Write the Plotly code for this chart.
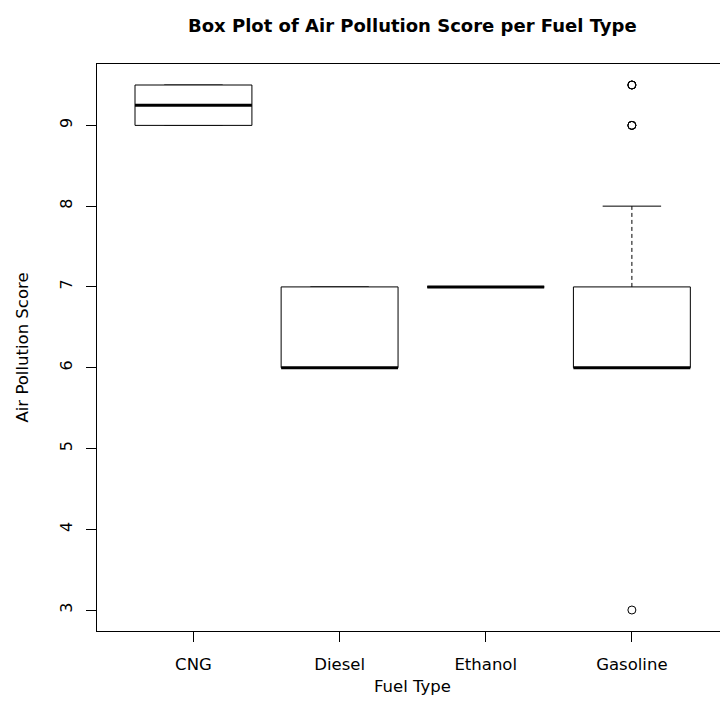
import plotly.graph_objects as go

categories = ["CNG", "Diesel", "Ethanol", "Gasoline"]
q1 = [9.0, 6.0, 7.0, 6.0]
median = [9.25, 6.0, 7.0, 6.0]
q3 = [9.5, 7.0, 7.0, 7.0]
lower_whisker = [9.0, 6.0, 7.0, 6.0]
upper_whisker = [9.5, 7.0, 7.0, 8.0]
outlier_cat = ["Gasoline", "Gasoline", "Gasoline", "Gasoline", "Gasoline", "Gasoline", "Gasoline"]
outlier_val = [9.5, 9.5, 9.5, 9.0, 9.0, 9.0, 3.0]
y_ticks = [3, 4, 5, 6, 7, 8, 9]

BOX_HALF = 0.4
STAPLE_HALF = 0.2
X_RANGE = [0.34, 4.603]
Y_RANGE = [2.74, 9.76]

fig = go.Figure()
FONT = "DejaVu Sans, Liberation Sans, Arial, sans-serif"

for i, cat in enumerate(categories):
    x = i + 1
    for a, b in ((q3[i], upper_whisker[i]), (q1[i], lower_whisker[i])):
        fig.add_trace(go.Scatter(x=[x, x], y=[a, b], mode="lines",
                                 line=dict(color="black", width=1, dash="4px,3px"),
                                 hoverinfo="skip", showlegend=False))
    for w in (upper_whisker[i], lower_whisker[i]):
        fig.add_trace(go.Scatter(x=[x - STAPLE_HALF, x + STAPLE_HALF], y=[w, w], mode="lines",
                                 line=dict(color="black", width=1),
                                 hoverinfo="skip", showlegend=False))
    fig.add_trace(go.Scatter(
        x=[x - BOX_HALF, x + BOX_HALF, x + BOX_HALF, x - BOX_HALF, x - BOX_HALF],
        y=[q1[i], q1[i], q3[i], q3[i], q1[i]], mode="lines",
        line=dict(color="black", width=1), fill="toself", fillcolor="white",
        hoverinfo="skip", showlegend=False))
    fig.add_trace(go.Scatter(x=[x - BOX_HALF, x + BOX_HALF], y=[median[i], median[i]], mode="lines",
                             line=dict(color="black", width=3),
                             hoverinfo="skip", showlegend=False))

fig.add_trace(go.Scatter(
    x=[categories.index(c) + 1 for c in outlier_cat], y=outlier_val, mode="markers",
    marker=dict(symbol="circle-open", size=8, color="black", line=dict(width=1)),
    hoverinfo="skip", showlegend=False))

fig.update_layout(
    width=720, height=719,
    margin=dict(l=97, r=0, t=64, b=88),
    paper_bgcolor="white", plot_bgcolor="white",
    font=dict(family=FONT, color="black", size=16.5),
    xaxis=dict(range=X_RANGE, tickvals=[1, 2, 3, 4], ticktext=categories,
               showgrid=False, zeroline=False, showline=True, mirror=True,
               linecolor="black", linewidth=1, ticks="outside", ticklen=10,
               tickcolor="black", tickfont=dict(size=16.5, family=FONT),
               ticklabelstandoff=8),
    yaxis=dict(range=Y_RANGE, tickvals=y_ticks, ticktext=[str(v) for v in y_ticks],
               showgrid=False, zeroline=False, showline=True, mirror=False,
               linecolor="black", linewidth=1, ticks="outside", ticklen=10,
               tickcolor="black", tickangle=-90, tickfont=dict(size=16, family=FONT),
               ticklabelstandoff=8),
    annotations=[
        dict(text="<b>Box Plot of Air Pollution Score per Fuel Type</b>", x=2.5, xref="x",
             y=1, yref="paper", yanchor="middle", yshift=39, showarrow=False,
             font=dict(size=18, family=FONT)),
        dict(text="Fuel Type", x=2.5, xref="x", y=0, yref="paper", yanchor="middle",
             yshift=-55, showarrow=False, font=dict(size=16.5, family=FONT)),
        dict(text="Air Pollution Score", x=0, xref="paper", y=0.5, yref="paper",
             xanchor="center", xshift=-75, textangle=-90, showarrow=False,
             font=dict(size=16.5, family=FONT)),
    ],
)

fig.write_html("out.html", config={"displayModeBar": False},
               post_script="document.body.style.margin='0';document.body.style.overflow='hidden';")
